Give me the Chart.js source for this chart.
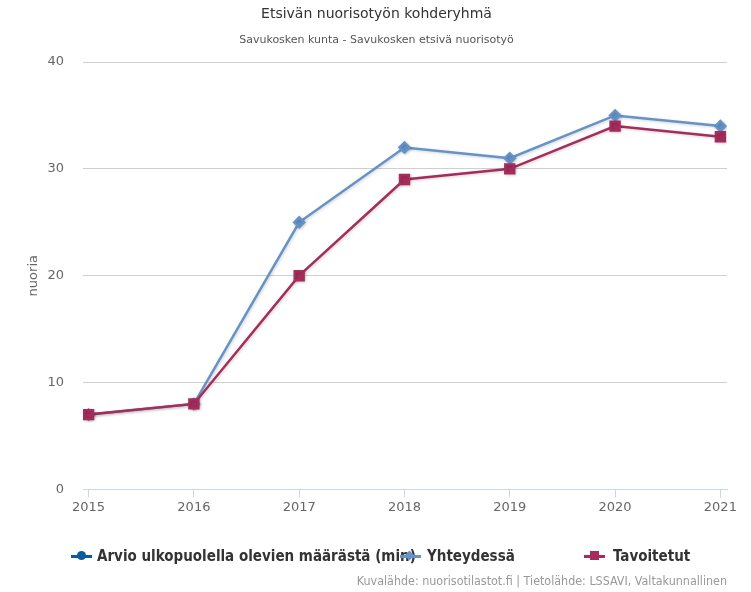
<!DOCTYPE html>
<html>
<head>
<meta charset="utf-8">
<script src="https://cdn.jsdelivr.net/npm/chart.js@4"></script>
<style>
  body { margin: 0; background: #fff; }
  #wrap { position: relative; width: 751px; height: 592px; }
  #chart { position: absolute; left: 0; top: 0; }
  .leg { position: absolute; top: 546px; height: 20px; font-family: "DejaVu Sans Condensed", "DejaVu Sans"; font-weight: bold; font-size: 15px; color: #333; white-space: nowrap; }
  .leg .ln { position: absolute; top: 9px; width: 21px; height: 2.5px; }
  .leg .mk { position: absolute; }
  .leg .tx { position: absolute; top: 0; line-height: 20px; }
  #credits { position: absolute; right: 24px; top: 573px; font-family: "DejaVu Sans Condensed", "DejaVu Sans"; font-size: 12.4px; color: #999; white-space: nowrap; }
</style>
</head>
<body>
<div id="wrap">
  <canvas id="chart" width="751" height="592"></canvas>
  <div class="leg" style="left:71px">
    <div class="ln" style="left:0;background:#0b5ba1"></div>
    <div class="mk" style="left:6px;top:5px;width:9px;height:9px;border-radius:50%;background:#0b5ba1"></div>
    <div class="tx" style="left:26px">Arvio ulkopuolella olevien määrästä (min)</div>
  </div>
  <div class="leg" style="left:400px">
    <div class="ln" style="left:0;background:#6593c8"></div>
    <div class="mk" style="left:6px;top:6px;width:7px;height:7px;transform:rotate(45deg);background:#6593c8"></div>
    <div class="tx" style="left:27px">Yhteydessä</div>
  </div>
  <div class="leg" style="left:584px">
    <div class="ln" style="left:0;background:#a52d5c"></div>
    <div class="mk" style="left:6px;top:5px;width:9px;height:9px;background:#a52d5c"></div>
    <div class="tx" style="left:29px">Tavoitetut</div>
  </div>
  <div id="credits">Kuvalähde: nuorisotilastot.fi | Tietolähde: LSSAVI, Valtakunnallinen</div>
</div>
<script>
const years = [2015, 2016, 2017, 2018, 2019, 2020, 2021];
const arvio = [null, null, null, null, null, null, null];
const yhteydessa = [7, 8, 25, 32, 31, 35, 34];
const tavoitetut = [7, 8, 20, 29, 30, 34, 33];
const yTicks = [0, 10, 20, 30, 40];

const points = (vals) => years.map((yr, i) => ({ x: yr, y: vals[i] }));

// highcharts-like soft shadow under the lines
const shadow = {
  id: "shadow",
  beforeDatasetDraw(chart) {
    const ctx = chart.ctx;
    ctx.save();
    ctx.shadowColor = "rgba(0,0,0,0.18)";
    ctx.shadowOffsetX = 1;
    ctx.shadowOffsetY = 1;
    ctx.shadowBlur = 3;
  },
  afterDatasetDraw(chart) {
    chart.ctx.restore();
  },
};

const ctx = document.getElementById("chart");
new Chart(ctx, {
  type: "line",
  data: {
    datasets: [
      {
        label: "Tavoitetut",
        data: points(tavoitetut),
        borderColor: "#a52d5c",
        backgroundColor: "#a52d5c",
        borderWidth: 2.5,
        pointStyle: "rect",
        pointRadius: 6.3,
        order: 0,
      },
      {
        label: "Yhteydessä",
        data: points(yhteydessa),
        borderColor: "#6593c8",
        backgroundColor: "#6593c8",
        borderWidth: 2.5,
        pointStyle: "rectRot",
        pointRadius: 5,
        order: 1,
      },
      {
        label: "Arvio ulkopuolella olevien määrästä (min)",
        data: points(arvio),
        borderColor: "#0b5ba1",
        backgroundColor: "#0b5ba1",
        pointRadius: 4,
        order: 2,
      },
    ],
  },
  options: {
    responsive: false,
    animation: false,
    layout: { padding: { left: 26, right: 24, top: 0, bottom: 75 } },
    plugins: {
      legend: { display: false },
      tooltip: { enabled: false },
      title: {
        display: true,
        text: "Etsivän nuorisotyön kohderyhmä",
        color: "#333",
        font: { family: "DejaVu Sans", size: 14, weight: "normal" },
        padding: { top: 6, bottom: 7 },
      },
      subtitle: {
        display: true,
        text: "Savukosken kunta - Savukosken etsivä nuorisotyö",
        color: "#555",
        font: { family: "DejaVu Sans", size: 11, weight: "normal" },
        padding: { top: 4, bottom: 15 },
      },
    },
    scales: {
      x: {
        type: "linear",
        min: 2014.947,
        max: 2021.063,
        afterBuildTicks: (scale) => {
          scale.ticks = years.map((v) => ({ value: v }));
        },
        ticks: {
          color: "#666",
          font: { family: "DejaVu Sans", size: 13 },
          padding: 2,
          maxRotation: 0,
          autoSkip: false,
          callback: (v) => String(v),
        },
        grid: { drawOnChartArea: false, drawTicks: true, tickLength: 8, color: "#ccd6eb", lineWidth: 1 },
        border: { display: true, color: "#ccd6eb", width: 1 },
      },
      y: {
        min: 0,
        max: 40,
        afterBuildTicks: (scale) => {
          scale.ticks = yTicks.map((v) => ({ value: v }));
        },
        afterFit: (scale) => {
          scale.width = 57;
        },
        ticks: {
          color: "#666",
          font: { family: "DejaVu Sans", size: 13 },
          padding: 19,
        },
        grid: { color: "#cfcfcf", drawTicks: false, lineWidth: 1 },
        border: { display: false },
        title: {
          display: true,
          text: "nuoria",
          color: "#666",
          font: { family: "DejaVu Sans", size: 13 },
          padding: { top: 0, bottom: 0 },
        },
      },
    },
  },
  plugins: [shadow],
});
</script>
</body>
</html>
